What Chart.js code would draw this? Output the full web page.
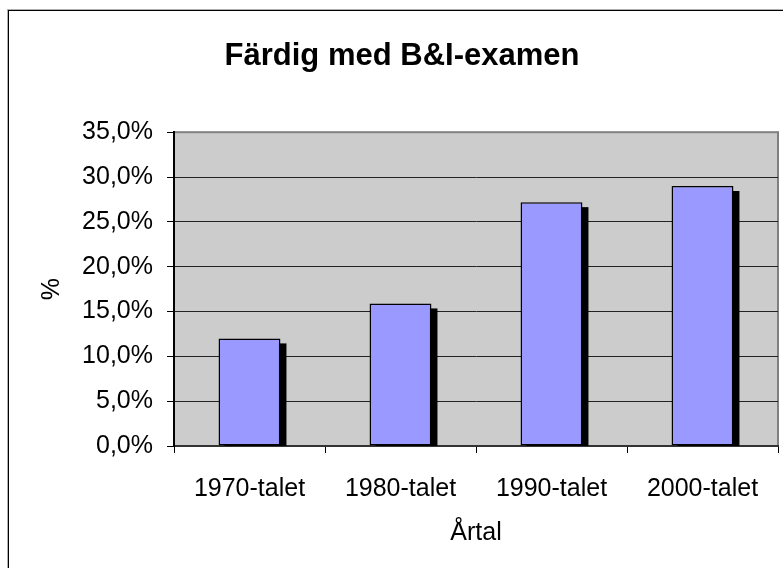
<!DOCTYPE html>
<html lang="sv">
<head>
    <meta charset="UTF-8">
    <title>Färdig med B&amp;I-examen</title>
    <script src="https://cdn.jsdelivr.net/npm/chart.js"></script>
    <style>
        body {
            margin: 0;
            background: #ffffff;
        }
        canvas {
            display: block;
        }
    </style>
</head>
<body>
    <canvas id="examChart" width="783" height="568"></canvas>

    <script>
        // data
        const categories = ['1970-talet', '1980-talet', '1990-talet', '2000-talet'];
        const shares = [12.0, 15.9, 27.2, 29.0];
        const yTicksMax = 35;
        const yStep = 5;

        const FONT = "Arial, 'Liberation Sans', sans-serif";

        // grey plot area + outer frame, like the Excel original
        const backdrop = {
            id: 'backdrop',
            beforeDraw(chart) {
                const { ctx, chartArea: a } = chart;
                ctx.save();
                // outer chart frame
                ctx.strokeStyle = '#b0b0b0';
                ctx.lineWidth = 1;
                ctx.strokeRect(7.5, 9.5, 900, 900);
                ctx.strokeStyle = '#000000';
                ctx.strokeRect(8.5, 10.5, 900, 900);
                // plot area
                ctx.fillStyle = '#cccccc';
                ctx.fillRect(a.left, a.top, a.right - a.left, a.bottom - a.top);
                ctx.strokeStyle = '#808080';
                ctx.lineWidth = 2;
                ctx.strokeRect(a.left, a.top, a.right - a.left, a.bottom - a.top);
                ctx.restore();
            }
        };

        // black drop shadow behind each bar
        const barShadow = {
            id: 'barShadow',
            beforeDatasetsDraw(chart) {
                const { ctx, chartArea: a } = chart;
                const meta = chart.getDatasetMeta(0);
                ctx.save();
                ctx.beginPath();
                ctx.rect(a.left, a.top, a.right - a.left, a.bottom - a.top);
                ctx.clip();
                ctx.fillStyle = '#000000';
                meta.data.forEach((bar) => {
                    const p = bar.getProps(['x', 'y', 'width', 'base'], true);
                    ctx.fillRect(p.x - p.width / 2 + 6, p.y + 5, p.width, p.base - p.y);
                });
                ctx.restore();
            }
        };

        new Chart(document.getElementById('examChart'), {
            type: 'bar',
            data: {
                labels: categories,
                datasets: [{
                    data: shares,
                    backgroundColor: '#9999ff',
                    borderColor: '#000000',
                    borderWidth: 1.5,
                    borderSkipped: false,
                    barPercentage: 0.41,
                    categoryPercentage: 1.0,
                }],
            },
            options: {
                responsive: false,
                animation: false,
                events: [],
                layout: {
                    padding: { left: 26, right: 5, top: 0, bottom: 0 },
                },
                plugins: {
                    legend: { display: false },
                    tooltip: { enabled: false },
                    title: {
                        display: true,
                        text: 'Färdig med B&I-examen',
                        color: '#000000',
                        font: { family: FONT, size: 31, weight: 'bold' },
                        padding: { top: 38, bottom: 57 },
                    },
                },
                scales: {
                    x: {
                        afterFit: (scale) => { scale.height = 122; },
                        grid: {
                            offset: true,
                            drawOnChartArea: false,
                            drawTicks: true,
                            tickLength: 7,
                            color: '#000000',
                        },
                        border: { display: true, color: '#333333', width: 2 },
                        ticks: {
                            color: '#000000',
                            padding: 21,
                            font: { family: FONT, size: 25 },
                        },
                        title: {
                            display: true,
                            text: 'Årtal',
                            color: '#000000',
                            font: { family: FONT, size: 25 },
                            padding: { top: 0, bottom: 20 },
                        },
                    },
                    y: {
                        min: 0,
                        max: yTicksMax,
                        afterFit: (scale) => { scale.width = 148; },
                        grid: {
                            color: (c) => (c.tick && c.tick.value === yTicksMax ? '#808080' : '#222222'),
                            tickColor: '#000000',
                            tickLength: 7,
                        },
                        border: { display: true, color: '#000000', width: 2 },
                        ticks: {
                            stepSize: yStep,
                            color: '#000000',
                            padding: 14,
                            font: { family: FONT, size: 25 },
                            callback: (v) => v.toFixed(1).replace('.', ',') + '%',
                        },
                        title: {
                            display: true,
                            text: '%',
                            color: '#000000',
                            font: { family: FONT, size: 25 },
                            padding: { top: 11, bottom: 0 },
                        },
                    },
                },
            },
            plugins: [backdrop, barShadow],
        });
    </script>
</body>
</html>
